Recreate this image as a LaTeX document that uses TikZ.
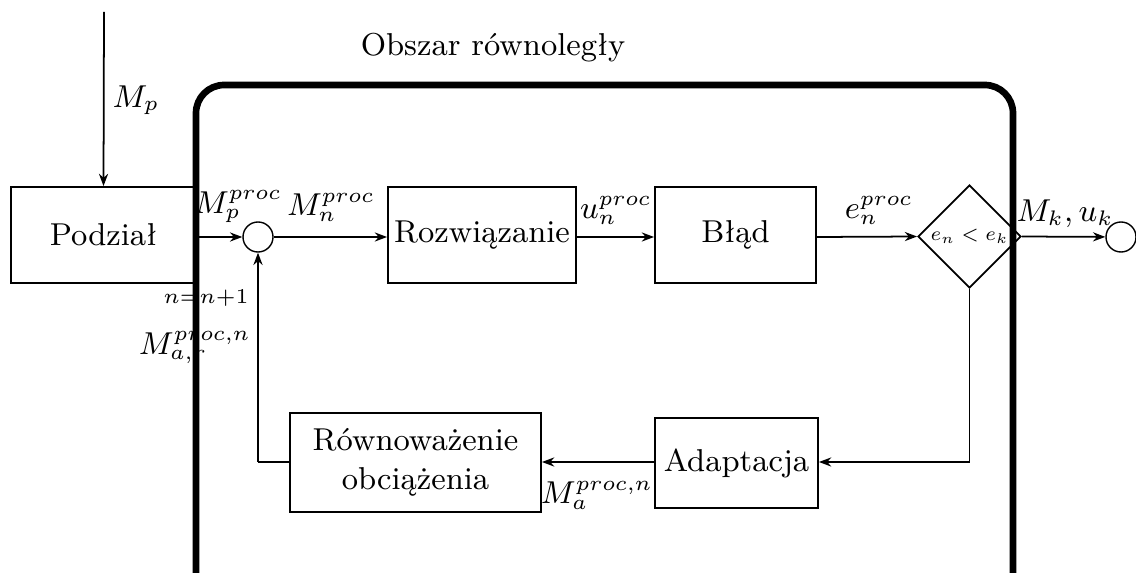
\documentclass[tikz,border=0pt]{standalone}
\usepackage{fontspec}
\usepackage{graphicx}
\usetikzlibrary{shapes.geometric,arrows.meta}
\begin{document}
\begin{tikzpicture}[x=0.01cm,y=-0.01cm,
  every node/.style={font=\fontsize{9}{11}\selectfont},
  blk/.style={draw, line width=0.5pt, minimum height=0.96cm, align=center, inner sep=0pt},
  sumc/.style={draw, circle, minimum size=0.3cm, inner sep=0pt},
  arr/.style={-{Stealth[length=3.5pt,width=2.6pt]}, line width=0.5pt},
  ln/.style={line width=0.5pt},
  lbl/.style={inner sep=0pt}
]
\useasboundingbox (0,0) rectangle (1136,573);
% parallel region
\draw[line width=1.9pt, rounded corners=8pt] (196,600) -- (196,85) -- (1013,85) -- (1013,600);
\node[lbl] (obs) at (493,48) {Obszar równoległy};
% blocks
\node[blk, minimum width=1.85cm] (pod) at (103.5,235) {Podział};
\node[sumc] (s1) at (258,237) {};
\node[blk, minimum width=1.88cm] (roz) at (482,235) {Rozwiązanie};
\node[blk, minimum width=1.61cm] (bl) at (735.5,235) {Błąd};
\node[draw, diamond, aspect=1, minimum size=1.03cm, inner sep=0pt, line width=0.5pt, font=\fontsize{7}{8}\selectfont] (dec) at (969.5,236.5) {\scalebox{0.8}{$e_n<e_k$}};
\node[sumc] (s2) at (1121,237) {};
\node[blk, minimum width=1.63cm, minimum height=0.9cm] (ada) at (736.5,463) {Adaptacja};
\node[blk, minimum width=2.51cm, minimum height=0.99cm] (rown) at (415.5,462.5) {Równoważenie\\obciążenia};
\coordinate (top) at (104,12);
\coordinate (c1) at (969.5,462);
\coordinate (c2) at (258,462);
% connectors
\draw[arr] (top) -- (pod.north);
\node[lbl] (mp) at (136,100) {$M_p$};
\draw[arr] (pod.east |- s1) -- (s1);
\node[lbl] (mpp) at (238,207) {$M_p^{proc}$};
\draw[arr] (s1) -- (roz.west |- s1);
\node[lbl] (mnp) at (331,207) {$M_n^{proc}$};
\draw[arr] (roz.east |- s1) -- (bl.west |- s1);
\node[lbl] (unp) at (616,210) {$u_n^{proc}$};
\draw[arr] (bl.east |- s1) -- (dec.west);
\node[lbl] (enp) at (879,210) {$e_n^{proc}$};
\draw[arr] (dec.east) -- (s2);
\node[lbl] (mkuk) at (1065,214) {$M_k,u_k$};
\draw[ln] (dec.south) -- (c1);
\draw[arr] (c1) -- (ada.east |- c1);
\draw[arr] (ada.west |- c1) -- (rown.east |- c1);
\node[lbl] (map) at (597,495) {$M_a^{proc,n}$};
\draw[ln] (rown.west |- c2) -- (c2);
\draw[arr] (c2) -- (s1.south);
\node[lbl] (nn) at (206,298) {$\scriptstyle n=n+1$};
\node[lbl] (mar) at (195,348) {$M_{a,r}^{proc,n}$};
\end{tikzpicture}
\end{document}
